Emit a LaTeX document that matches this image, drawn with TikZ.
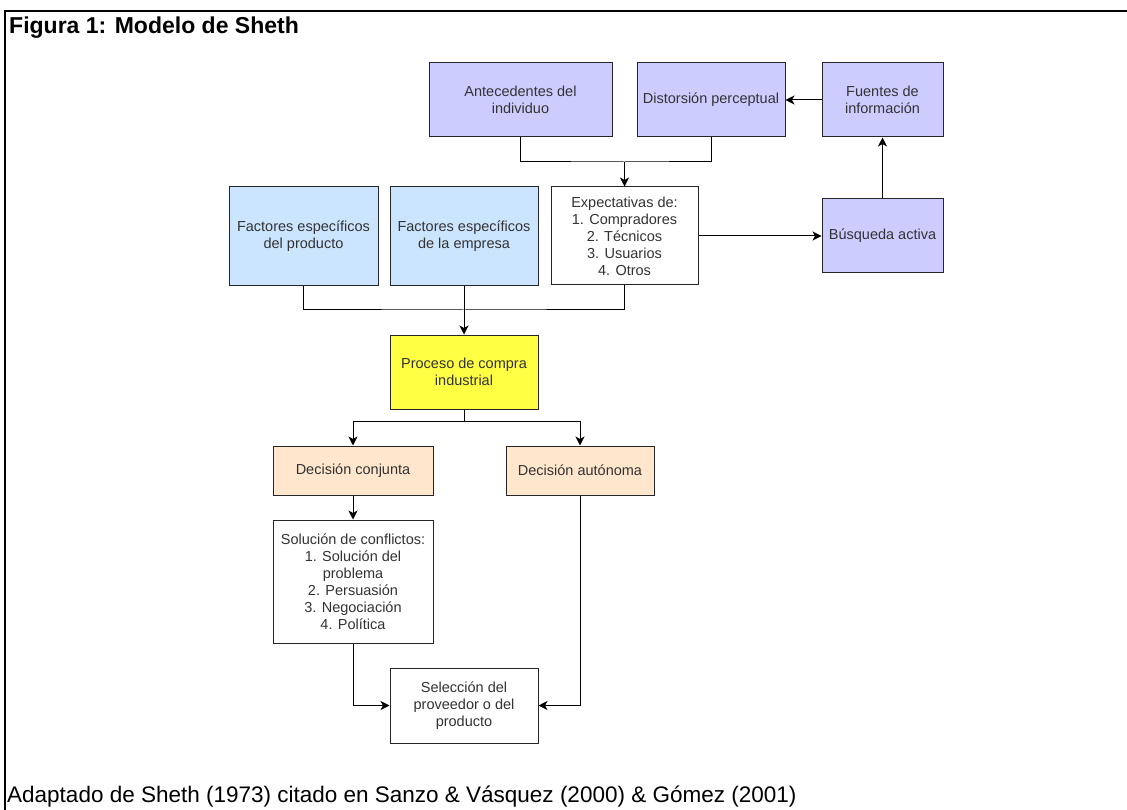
\documentclass[tikz,border=0pt]{standalone}
\usepackage{fontspec}
\setmainfont{Liberation Sans}
\usetikzlibrary{arrows.meta}
\definecolor{purp}{HTML}{CCCCFF}
\definecolor{lblue}{HTML}{CCE5FF}
\definecolor{yel}{HTML}{FFFF44}
\definecolor{orng}{HTML}{FFE6CC}
\definecolor{txt}{HTML}{333333}
\tikzset{
  box/.style={draw=black!85, line width=1pt, rectangle, inner sep=0pt, align=center,
    font=\fontsize{14.5}{17}\selectfont, text=txt},
  conn/.style={line width=1pt, -{Stealth[length=9pt,width=9pt,inset=2.5pt]}},
  plain/.style={line width=1pt},
}
\begin{document}
\begin{tikzpicture}[x=1pt,y=-1pt]
\useasboundingbox (0,0) rectangle (1127,810);
\draw[line width=2pt] (5,810) -- (5,11) -- (1127,11);
\node[anchor=base west, font=\fontsize{23}{26}\selectfont\bfseries, inner sep=0pt] (title) at (9,34) {Figura 1: Modelo de Sheth};
\node[anchor=base west, font=\fontsize{22.5}{26}\selectfont, inner sep=0pt] (foot) at (7,802) {Adaptado de Sheth (1973) citado en Sanzo \& Vásquez (2000) \& Gómez (2001)};

\node[box, fill=purp, minimum width=183, minimum height=74] (ant) at (520.5,100) {Antecedentes del\\individuo};
\node[box, fill=purp, minimum width=148, minimum height=74] (dist) at (711,100) {Distorsión perceptual};
\node[box, fill=purp, minimum width=121, minimum height=74] (fue) at (882.5,100) {Fuentes de\\información};
\node[box, fill=white, minimum width=147, minimum height=98] (exp) at (624.5,236) {Expectativas de:\\1. Compradores\\2. Técnicos\\3. Usuarios\\4. Otros};
\node[box, fill=purp, minimum width=121, minimum height=74] (bus) at (882.5,236) {Búsqueda activa};
\node[box, fill=lblue, minimum width=149, minimum height=99] (fp) at (303.5,236.5) {Factores específicos\\del producto};
\node[box, fill=lblue, minimum width=148, minimum height=99] (fe) at (464,236.5) {Factores específicos\\de la empresa};
\node[box, fill=yel, minimum width=148, minimum height=74] (pro) at (464,372) {Proceso de compra\\industrial};
\node[box, fill=orng, minimum width=160, minimum height=49] (dc) at (353,470.5) {Decisión conjunta};
\node[box, fill=orng, minimum width=148, minimum height=49] (da) at (580,470.5) {Decisión autónoma};
\node[box, fill=white, minimum width=160, minimum height=123] (sol) at (353,581.5) {Solución de conflictos:\\1. Solución del\\problema\\2. Persuasión\\3. Negociación\\4. Política};
\node[box, fill=white, minimum width=148, minimum height=75] (sel) at (464,705.5) {Selección del\\proveedor o del\\producto};

\coordinate (j1) at (624.5,162);
\coordinate (j2) at (464,310);
\coordinate (j3) at (464,421);

\draw[plain] (ant.south) |- (j1) -| (dist.south);
\draw[conn] (j1) -- (exp.north);
\draw[plain] (fp.south) |- (j2) -| (exp.south);
\draw[conn] (fe.south) -- (pro.north);
\draw[conn] (exp.east) -- (bus.west);
\draw[conn] (bus.north) -- (fue.south);
\draw[conn] (fue.west) -- (dist.east);
\draw[plain] (pro.south) -- (j3);
\draw[conn] (j3) -| (dc.north);
\draw[conn] (j3) -| (da.north);
\draw[conn] (dc.south) -- (sol.north);
\draw[conn] (sol.south) |- (sel.west);
\draw[conn] (da.south) |- (sel.east);
\end{tikzpicture}
\end{document}
